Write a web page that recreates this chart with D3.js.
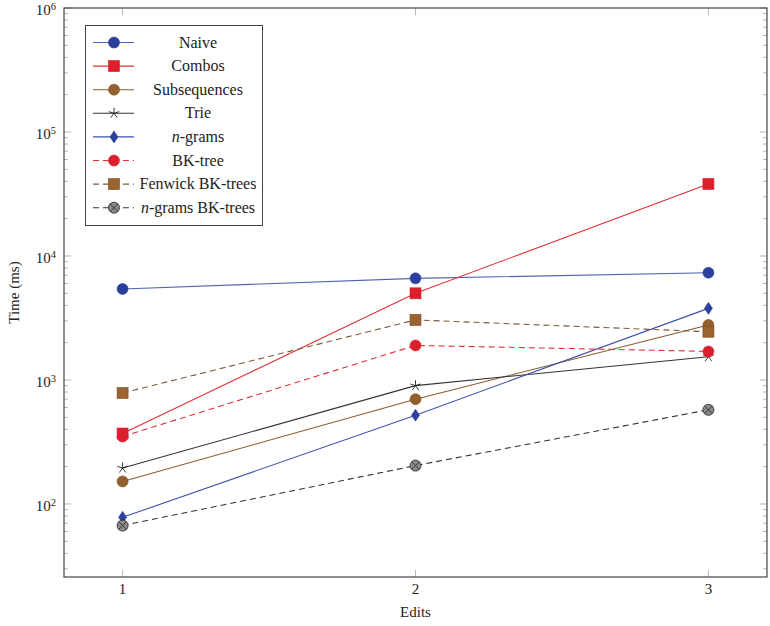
<!DOCTYPE html>
<html><head><meta charset="utf-8">
<script src="https://cdn.jsdelivr.net/npm/d3@7"></script>
<style>body{margin:0;background:#fff}</style>
</head><body>
<svg id="c" width="770" height="626" font-family="'Liberation Serif', 'Times New Roman', 'DejaVu Serif', serif"></svg>
<script>
const edits = [1, 2, 3];
const naive = [5420, 6600, 7330];
const combos = [370, 5000, 38100];
const subsequences = [152, 700, 2780];
const trie = [195, 900, 1540];
const ngrams = [78, 520, 3780];
const bktree = [350, 1900, 1700];
const fenwick = [785, 3050, 2450];
const ngramsBK = [67, 204, 575];
const yTicks = [2, 3, 4, 5, 6];

const series = [
  {name:"Naive", values:naive, line:"#5063b0", fill:"#2c3f9c", stroke:"#2c3f9c", dash:null, marker:"circle"},
  {name:"Combos", values:combos, line:"#e0303a", fill:"#dc1f2c", stroke:"#dc1f2c", dash:null, marker:"square"},
  {name:"Subsequences", values:subsequences, line:"#8a5a2e", fill:"#935f2c", stroke:"#7a4d22", dash:null, marker:"circle"},
  {name:"Trie", values:trie, line:"#333", fill:"none", stroke:"#222", dash:null, marker:"star"},
  {name:"n-grams", values:ngrams, line:"#3d52a8", fill:"#2c3f9c", stroke:"#2c3f9c", dash:null, marker:"diamond", italicN:true},
  {name:"BK-tree", values:bktree, line:"#e0303a", fill:"#dc1f2c", stroke:"#dc1f2c", dash:"6,4", marker:"circle"},
  {name:"Fenwick BK-trees", values:fenwick, line:"#7a5a3a", fill:"#9a6330", stroke:"#7a4d22", dash:"6,4", marker:"square"},
  {name:"n-grams BK-trees", values:ngramsBK, line:"#333", fill:"#8a8a8a", stroke:"#222", dash:"6,4", marker:"otimes", italicN:true}
];

const L = 64, R = 767, T = 8, B = 577;
const svg = d3.select("#c");
const x = d3.scaleLinear().domain([0.8, 3.2]).range([L, R]);
const y = d3.scaleLog().domain([Math.pow(10, 1.411), 1e6]).range([B, T]);

// ticks
const gT = svg.append("g").attr("stroke", "#b8b8b8").attr("stroke-width", 1);
for (let k = 1; k <= 5; k++) {
  for (let m = 2; m <= 9; m++) {
    const v = m * Math.pow(10, k);
    if (v < y.domain()[0] || v > 1e6) continue;
    const yy = y(v);
    gT.append("line").attr("x1", L).attr("x2", L + 4).attr("y1", yy).attr("y2", yy);
    gT.append("line").attr("x1", R).attr("x2", R - 4).attr("y1", yy).attr("y2", yy);
  }
}
yTicks.forEach(k => {
  const yy = y(Math.pow(10, k));
  gT.append("line").attr("x1", L).attr("x2", L + 7).attr("y1", yy).attr("y2", yy);
  gT.append("line").attr("x1", R).attr("x2", R - 7).attr("y1", yy).attr("y2", yy);
});
edits.forEach(e => {
  gT.append("line").attr("x1", x(e)).attr("x2", x(e)).attr("y1", B).attr("y2", B - 7);
  gT.append("line").attr("x1", x(e)).attr("x2", x(e)).attr("y1", T).attr("y2", T + 7);
});

// frame
svg.append("rect").attr("x", L).attr("y", T).attr("width", R - L).attr("height", B - T)
  .attr("fill", "none").attr("stroke", "#333").attr("stroke-width", 1.1);

// y tick labels
yTicks.forEach(k => {
  const t = svg.append("text").attr("x", 56).attr("y", y(Math.pow(10, k)) + 7)
    .attr("text-anchor", "end").attr("font-size", 15).attr("fill", "#222");
  t.append("tspan").text("10");
  t.append("tspan").attr("dy", -5).attr("font-size", 10.5).text(k);
});
// x tick labels
edits.forEach(e => {
  svg.append("text").attr("x", x(e)).attr("y", 594).attr("text-anchor", "middle").attr("font-size", 15).attr("fill", "#222").text(e);
});
svg.append("text").attr("x", (L + R) / 2).attr("y", 617).attr("text-anchor", "middle").attr("font-size", 15).attr("fill", "#222").text("Edits");
svg.append("text").attr("transform", `translate(19,${(T + B) / 2}) rotate(-90)`).attr("text-anchor", "middle").attr("font-size", 15).attr("fill", "#222").text("Time (ms)");

function drawMarker(g, s, cx, cy) {
  if (s.marker === "circle") {
    g.append("circle").attr("cx", cx).attr("cy", cy).attr("r", 5.5).attr("fill", s.fill).attr("stroke", s.stroke).attr("stroke-width", 0.6);
  } else if (s.marker === "square") {
    g.append("rect").attr("x", cx - 5.5).attr("y", cy - 5.5).attr("width", 11).attr("height", 11).attr("fill", s.fill).attr("stroke", s.stroke).attr("stroke-width", 0.6);
  } else if (s.marker === "diamond") {
    g.append("path").attr("d", `M${cx},${cy - 6}L${cx + 4},${cy}L${cx},${cy + 6}L${cx - 4},${cy}Z`).attr("fill", s.fill).attr("stroke", s.stroke).attr("stroke-width", 0.6);
  } else if (s.marker === "star") {
    let d = "";
    for (let i = 0; i < 5; i++) {
      const a = -Math.PI / 2 + i * 2 * Math.PI / 5;
      d += `M${cx},${cy}L${cx + 5.5 * Math.cos(a)},${cy + 5.5 * Math.sin(a)}`;
    }
    g.append("path").attr("d", d).attr("stroke", s.stroke).attr("stroke-width", 0.9).attr("fill", "none");
  } else if (s.marker === "otimes") {
    const r = 5.5, q = r * 0.7071;
    g.append("circle").attr("cx", cx).attr("cy", cy).attr("r", r).attr("fill", s.fill).attr("stroke", s.stroke).attr("stroke-width", 0.8);
    g.append("path").attr("d", `M${cx - q},${cy - q}L${cx + q},${cy + q}M${cx - q},${cy + q}L${cx + q},${cy - q}`).attr("stroke", s.stroke).attr("stroke-width", 0.8);
  }
}

const line = d3.line().x((d, i) => x(edits[i])).y(d => y(d));
series.forEach(s => {
  svg.append("path").datum(s.values).attr("d", line).attr("fill", "none")
    .attr("stroke", s.line).attr("stroke-width", 1.1).attr("stroke-dasharray", s.dash);
});
series.forEach(s => {
  const g = svg.append("g");
  s.values.forEach((v, i) => drawMarker(g, s, x(edits[i]), y(v)));
});

// legend
const lg = svg.append("g");
lg.append("rect").attr("x", 85.5).attr("y", 25.5).attr("width", 177).attr("height", 200)
  .attr("fill", "#fff").attr("stroke", "#444").attr("stroke-width", 1);
series.forEach((s, i) => {
  const yy = 42.5 + i * 23.6;
  lg.append("line").attr("x1", 93).attr("x2", 134).attr("y1", yy).attr("y2", yy)
    .attr("stroke", s.line).attr("stroke-width", 1.1).attr("stroke-dasharray", s.dash);
  drawMarker(lg, s, 114, yy);
  const t = lg.append("text").attr("x", 198).attr("y", yy + 5).attr("text-anchor", "middle").attr("font-size", 16).attr("fill", "#222");
  if (s.italicN) {
    t.append("tspan").attr("font-style", "italic").text("n");
    t.append("tspan").text(s.name.slice(1));
  } else t.text(s.name);
});
</script>
</body></html>
